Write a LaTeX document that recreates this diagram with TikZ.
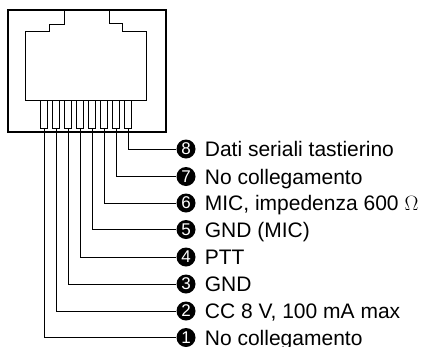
\documentclass[tikz,border=0pt]{standalone}
\usepackage{fontspec}
\setmainfont{Liberation Sans}
\usetikzlibrary{positioning}
\tikzset{
	pinbox/.style={draw, line width=0.7pt, fill=white, minimum width=7pt, minimum height=28pt, inner sep=0pt, anchor=north},
	badge/.style={circle, fill=black, text=white, minimum size=19pt, inner sep=0pt, font=\fontsize{17}{17}\selectfont},
	pinlabel/.style={right=9pt of #1, inner sep=0pt, text height=15pt, text depth=0pt, font=\fontsize{21}{23}\selectfont},
	wire/.style={line width=1pt}
}

\begin{document}
\begin{tikzpicture}[x=1pt, y=-1pt]
	%%%%% START %%%%%
	\useasboundingbox (0, 0) rectangle (426, 346);

	\draw[line width=1.5pt] (8, 10) rectangle (166, 132);
	\draw[line width=1pt] (64, 10) -- (64, 24) -- (49, 24) -- (49, 31) -- (25, 31) -- (25, 100) -- (146, 100) -- (146, 31) -- (122, 31) -- (122, 23) -- (109, 23) -- (109, 10);

	\foreach \i/\px/\py/\txt in {
		1/44/337.5/No collegamento,
		2/56/311/{CC 8 V, 100 mA max},
		3/68/284/GND,
		4/80/257/PTT,
		5/92/229.5/GND (MIC),
		6/104/203/{MIC, impedenza 600 $\Omega$},
		7/116/176.5/No collegamento,
		8/128/149/Dati seriali tastierino} {
		\node[pinbox] (pin\i) at (\px, 100) {};
		\node[badge] (badge\i) at (186, \py) {\i};
		\node[pinlabel=badge\i] (label\i) {\txt};
		\draw[wire] (pin\i.south) |- (badge\i.west);
	}
	%%%%% END %%%%%
\end{tikzpicture}
\end{document}
